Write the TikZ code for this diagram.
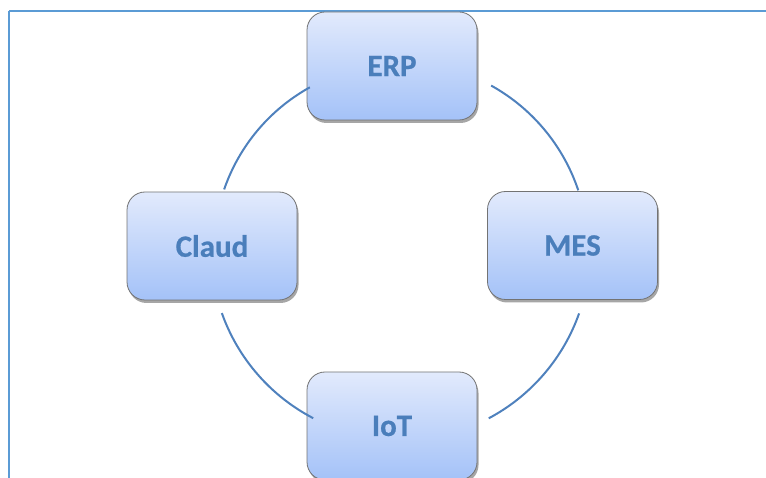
\documentclass[tikz,border=0pt]{standalone}
\usepackage{fontspec}
\setmainfont{Carlito}[BoldFeatures={FakeBold=0.6}]
\usetikzlibrary{shadows}
\definecolor{framec}{HTML}{5B9BD5}
\definecolor{linec}{HTML}{4F81BD}
\definecolor{txtc}{HTML}{4A7EBB}
\definecolor{topc}{RGB}{226,234,252}
\definecolor{botc}{RGB}{164,194,248}
\begin{document}
\begin{tikzpicture}[x=1pt,y=1pt,
  sysbox/.style={draw=black!55, line width=0.8pt, rounded corners=18pt,
    minimum width=170pt, minimum height=108pt,
    top color=topc, bottom color=botc,
    drop shadow={shadow xshift=1.5pt, shadow yshift=-3pt, opacity=0.35, fill=black},
    text=txtc, font=\fontsize{31}{36}\selectfont\bfseries, inner sep=0pt},
  ring/.style={draw=linec, line width=2pt}]
\useasboundingbox (0,0) rectangle (766,477);
\clip (0,0) rectangle (766,477);
\draw[framec, line width=2.4pt] (9,466) -- (790,466);
\draw[framec, line width=2.4pt] (9,466) -- (9,-20);
\coordinate (c) at (400,227);
\node[sysbox] (erp) at (392,411) {ERP};
\node[sysbox] (claud) at (212,231) {Claud};
\node[sysbox] (mes) at (572.5,231.5) {MES};
\node[sysbox] (iot) at (392,51) {IoT};
\draw[ring] (c) ++(119:186) arc[start angle=119, end angle=161, radius=186];
\draw[ring] (c) ++(18.5:188) arc[start angle=18.5, end angle=61, radius=188];
\draw[ring] (c) ++(-19.5:190) arc[start angle=-19.5, end angle=-62, radius=191];
\draw[ring] (c) ++(-160.5:189) arc[start angle=-160.5, end angle=-117.5, radius=190];
\end{tikzpicture}
\end{document}
